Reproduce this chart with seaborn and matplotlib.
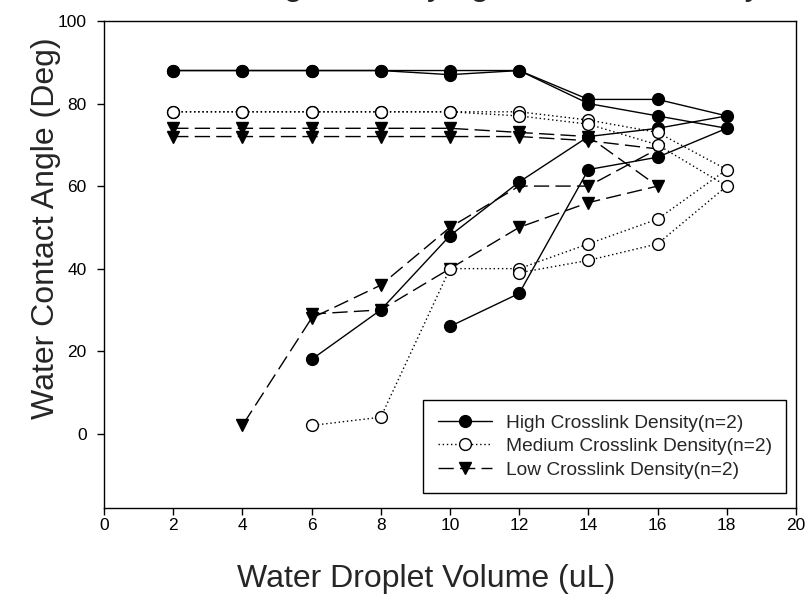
import matplotlib
matplotlib.use("Agg")
import matplotlib.pyplot as plt
from matplotlib.lines import Line2D
import seaborn as sns
import pandas as pd

# ---- data ----
title_text = "Contact Angle of Varying Crosslink Density"
x_label = "Water Droplet Volume (uL)"
y_label = "Water Contact Angle (Deg)"
legend_labels = ["High Crosslink Density(n=2)",
                 "Medium Crosslink Density(n=2)",
                 "Low Crosslink Density(n=2)"]
x_ticks = [0, 2, 4, 6, 8, 10, 12, 14, 16, 18, 20]
y_ticks = [0, 20, 40, 60, 80, 100]

high_a_x = [2, 4, 6, 8, 10, 12, 14, 16, 18, 16, 14, 12, 10]
high_a_y = [88, 88, 88, 88, 87, 88, 80, 77, 74, 67, 64, 34, 26]
high_b_x = [2, 4, 6, 8, 10, 12, 14, 16, 18, 16, 14, 12, 10, 8, 6]
high_b_y = [88, 88, 88, 88, 88, 88, 81, 81, 77, 74, 72, 61, 48, 30, 18]

med_a_x = [2, 4, 6, 8, 10, 12, 14, 16, 18, 16, 14, 12, 10, 8, 6]
med_a_y = [78, 78, 78, 78, 78, 78, 76, 73, 64, 52, 46, 40, 40, 4, 2]
med_b_x = [2, 4, 6, 8, 10, 12, 14, 16, 18, 16, 14, 12]
med_b_y = [78, 78, 78, 78, 78, 77, 75, 70, 60, 46, 42, 39]

low_a_x = [2, 4, 6, 8, 10, 12, 14, 16, 14, 12, 10, 8, 6]
low_a_y = [74, 74, 74, 74, 74, 73, 72, 60, 56, 50, 40, 30, 29]
low_b_x = [2, 4, 6, 8, 10, 12, 14, 16, 14, 12, 10, 8, 6, 4]
low_b_y = [72, 72, 72, 72, 72, 72, 71, 69, 60, 60, 50, 36, 28, 2]

samples = [
    ("High", "H1", high_a_x, high_a_y),
    ("High", "H2", high_b_x, high_b_y),
    ("Medium", "M1", med_a_x, med_a_y),
    ("Medium", "M2", med_b_x, med_b_y),
    ("Low", "L1", low_a_x, low_a_y),
    ("Low", "L2", low_b_x, low_b_y),
]
rows = []
for dens, sid, xs, ys in samples:
    for i, (xv, yv) in enumerate(zip(xs, ys)):
        rows.append({"density": dens, "sample": sid, "order": i, "x": xv, "y": yv})
df = pd.DataFrame(rows)

# ---- style ----
sns.set_style("ticks")
plt.rcParams["font.family"] = ["Liberation Sans", "DejaVu Sans"]
plt.rcParams["axes.linewidth"] = 1.0

styles = {
    "High": dict(marker="o", mfc="black", ls="-", z=3),
    "Medium": dict(marker="o", mfc="white", ls=(0, (1, 2)), z=4),
    "Low": dict(marker="v", mfc="black", ls=(0, (11, 4.5)), z=2),
}

fig = plt.figure(figsize=(8.08, 5.97), dpi=100)
ax = fig.add_axes([104 / 808, 1 - 508 / 597, (796 - 104) / 808, (508 - 21) / 597])

for dens in ["Low", "High", "Medium"]:
    st = styles[dens]
    sub = df[df["density"] == dens]
    sns.lineplot(data=sub, x="x", y="y", units="sample", estimator=None,
                 sort=False, ax=ax, color="black", linewidth=1.0,
                 linestyle=st["ls"], marker=st["marker"], markersize=8.5,
                 markerfacecolor=st["mfc"], markeredgecolor="black",
                 markeredgewidth=1.0, zorder=st["z"], legend=False)

ax.set_xlim(0, 20)
ax.set_ylim(-18, 100)
ax.set_xticks(x_ticks)
ax.set_yticks(y_ticks)
ax.tick_params(axis="both", direction="out", length=5, width=1.0,
               labelsize=12.5, colors="black")
ax.tick_params(axis="x", pad=2.5)
ax.tick_params(axis="y", pad=7.5)
for sp in ax.spines.values():
    sp.set_visible(True)
    sp.set_color("black")
    sp.set_linewidth(1.0)

ax.set_xlabel(x_label, fontsize=23)
ax.set_ylabel(y_label, fontsize=23)
ax.xaxis.set_label_coords(0.466, -0.116)
ax.yaxis.set_label_coords(-0.062, 0.575)

handles = []
for dens in ["High", "Medium", "Low"]:
    st = styles[dens]
    handles.append(Line2D([], [], color="black", linewidth=1.0, linestyle=st["ls"],
                          marker=st["marker"], markersize=8.5,
                          markerfacecolor=st["mfc"], markeredgecolor="black"))
leg = ax.legend(handles, legend_labels, loc="lower right",
                bbox_to_anchor=((786 - 104) / 692, (508 - 493) / 487),
                borderaxespad=0.0, fontsize=13.8,
                frameon=True, fancybox=False, edgecolor="black", framealpha=1,
                numpoints=1, handlelength=2.8, handletextpad=0.73,
                borderpad=0.75, labelspacing=0.32)
leg.get_frame().set_linewidth(1.0)

fig.text(439 / 808, 1.0 + 5 / 597, title_text, ha="center", va="baseline", fontsize=24.5)

fig.savefig("out.png", dpi=100)
